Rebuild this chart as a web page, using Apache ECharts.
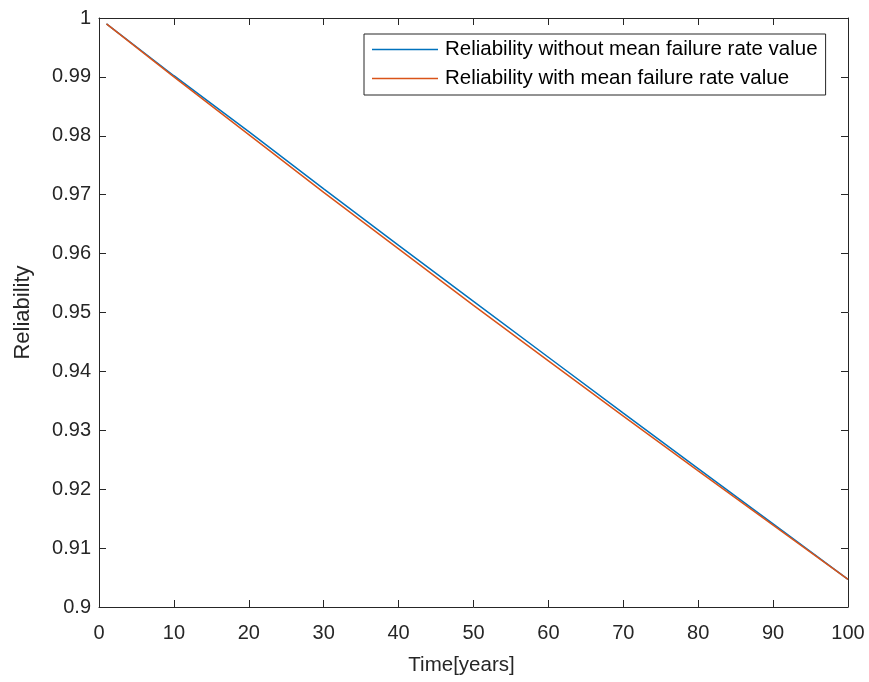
<!DOCTYPE html>
<html>
<head>
<meta charset="utf-8">
<script src="https://cdn.jsdelivr.net/npm/echarts@6/dist/echarts.min.js"></script>
<style>
html,body{margin:0;padding:0;background:#fff;}
#chart{width:869px;height:682px;}
</style>
</head>
<body>
<div id="chart"></div>
<script>
// Data
var years = [1, 10, 20, 30, 40, 50, 60, 70, 80, 90, 100];
var relWithout = [0.9990, 0.9902, 0.9807, 0.9710, 0.9614, 0.9519, 0.9424, 0.9329, 0.9235, 0.9141, 0.9047];
var relWith    = [0.9990, 0.9900, 0.9802, 0.9704, 0.9608, 0.9512, 0.9418, 0.9324, 0.9231, 0.9139, 0.9047];
var seriesNames = ['Reliability without mean failure rate value', 'Reliability with mean failure rate value'];
var xTitle = 'Time[years]';
var yTitle = 'Reliability';

function pairs(xs, ys){ return xs.map(function(x,i){ return [x, ys[i]]; }); }

var FONT = 'Liberation Sans, Arial, Helvetica, sans-serif';
var AX = '#262626';
function tick(){ return {show:true, inside:true, length:7, lineStyle:{color:AX, width:1}}; }
function line(){ return {show:true, onZero:false, lineStyle:{color:AX, width:1}}; }
var chart = echarts.init(document.getElementById('chart'), null, {renderer:'canvas'});
chart.setOption({
  backgroundColor:'#fff',
  animation:false,
  grid:{left:99, right:21, top:18, bottom:75, containLabel:false},
  legend:{
    orient:'vertical', left:364, top:34,
    data:seriesNames.map(function(n){return {name:n, icon:'rect'};}),
    itemWidth:66, itemHeight:1.5, itemGap:8,
    backgroundColor:'#fff', borderColor:AX, borderWidth:1, borderRadius:0,
    padding:[5,8,6,8],
    textStyle:{fontFamily:FONT, fontSize:20.5, color:'#000', padding:[0,0,0,2]}
  },
  xAxis:[
    {
      type:'value', min:0, max:100, interval:10, position:'bottom',
      axisLine:line(), axisTick:tick(), splitLine:{show:false},
      name:xTitle, nameLocation:'middle', nameGap:48,
      nameTextStyle:{fontFamily:FONT, fontSize:20.5, color:AX, padding:[0,24,0,0]},
      axisLabel:{fontFamily:FONT, fontSize:20, color:AX, margin:16}
    },
    {
      type:'value', min:0, max:100, interval:10, position:'top',
      axisLine:line(), axisTick:tick(), splitLine:{show:false},
      axisLabel:{show:false}
    }
  ],
  yAxis:[
    {
      type:'value', min:0.9, max:1, interval:0.01, position:'left',
      axisLine:line(), axisTick:tick(), splitLine:{show:false},
      name:yTitle, nameLocation:'middle', nameGap:65, nameRotate:90,
      nameTextStyle:{fontFamily:FONT, fontSize:22, color:AX},
      axisLabel:{fontFamily:FONT, fontSize:20, color:AX, margin:8,
        formatter:function(v){ return String(+v.toFixed(2)); }}
    },
    {
      type:'value', min:0.9, max:1, interval:0.01, position:'right',
      axisLine:line(), axisTick:tick(), splitLine:{show:false},
      axisLabel:{show:false}
    }
  ],
  series:[
    {name:seriesNames[0], type:'line', data:pairs(years, relWithout), showSymbol:false,
     smooth:false, itemStyle:{color:'#0072BD'}, lineStyle:{color:'#0072BD', width:1.5}},
    {name:seriesNames[1], type:'line', data:pairs(years, relWith), showSymbol:false,
     smooth:false, itemStyle:{color:'#D95319'}, lineStyle:{color:'#D95319', width:1.5}}
  ]
});
</script>
</body>
</html>
